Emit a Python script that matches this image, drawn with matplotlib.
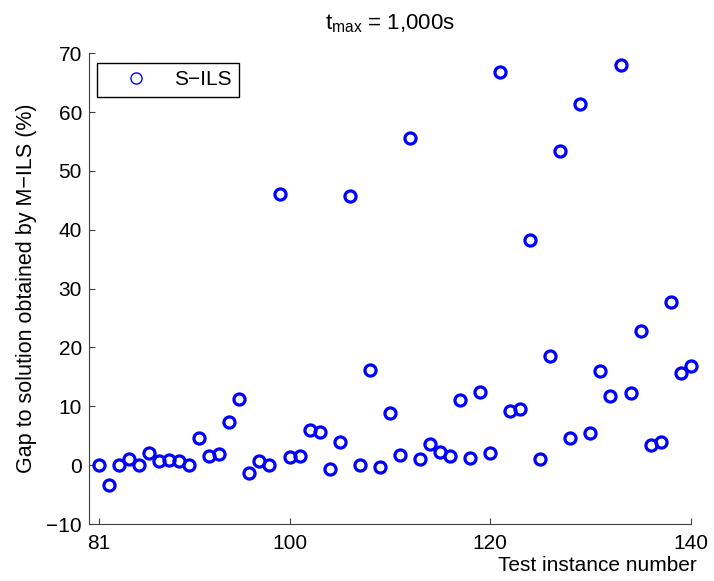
import numpy as np
import matplotlib
matplotlib.use("Agg")
import matplotlib.pyplot as plt
from matplotlib.lines import Line2D

# test instances 81..140 and gap (%) of S-ILS relative to M-ILS
instances = list(range(81, 141))
gap = [0.0, -3.4, 0.0, 1.0, 0.0, 2.0, 0.7, 0.85, 0.7, 0.0,
       4.6, 1.6, 1.9, 7.4, 11.2, -1.4, 0.7, 0.1, 46.1, 1.4,
       1.6, 5.9, 5.7, -0.6, 3.9, 45.7, 0.1, 16.2, -0.3, 8.8,
       1.7, 55.6, 1.1, 3.6, 2.3, 1.6, 11.0, 1.3, 12.4, 2.0,
       66.8, 9.2, 9.5, 38.2, 1.0, 18.5, 53.4, 4.7, 61.4, 5.5,
       16.0, 11.8, 68.0, 12.3, 22.8, 3.4, 3.9, 27.7, 15.6, 16.9]
xticks = [81, 100, 120, 140]
yticks = list(range(-10, 71, 10))

plt.rcParams["font.family"] = ["Liberation Sans", "DejaVu Sans"]
FS = 15

fig = plt.figure(figsize=(7.14, 5.81), dpi=100)
ax = fig.add_axes([0.1246, 0.098, 0.8428, 0.8105])

ax.plot(instances, gap, linestyle="none", marker="o", markersize=8,
        markerfacecolor="none", markeredgecolor="#0000ff", markeredgewidth=2.3,
        clip_on=False)

ax.set_xlim(80, 140)
ax.set_ylim(-10, 70)
ax.set_xticks(xticks)
ax.set_yticks(yticks)
ax.tick_params(direction="in", length=4, width=0.8, colors="#404040",
               labelcolor="black", labelsize=FS)
ax.tick_params(axis="x", pad=7)
ax.tick_params(axis="y", pad=5)
for side in ["top", "right"]:
    ax.spines[side].set_visible(False)
for side in ["left", "bottom"]:
    ax.spines[side].set_color("#404040")
    ax.spines[side].set_linewidth(0.8)

ax.set_title(r"$\mathregular{t_{max}}$ = 1,000s", fontsize=16, pad=17)
ax.set_ylabel("Gap to solution obtained by M\u2212ILS (%)", fontsize=15.5, labelpad=7)
fig.text(0.976, 0.026, "Test instance number", fontsize=FS, ha="right", va="center")

handle = Line2D([], [], linestyle="none", marker="o", markersize=8,
                markerfacecolor="none", markeredgecolor="#0000ff", markeredgewidth=1.0)
leg = ax.legend([handle], ["S\u2212ILS"], loc="upper left",
                bbox_to_anchor=(0.014, 0.979), fontsize=FS, fancybox=False,
                framealpha=1, edgecolor="black", borderpad=0.35,
                handletextpad=0.35, handlelength=3.0, borderaxespad=0)
leg.get_frame().set_linewidth(1.0)

fig.savefig("out.png", dpi=100)
